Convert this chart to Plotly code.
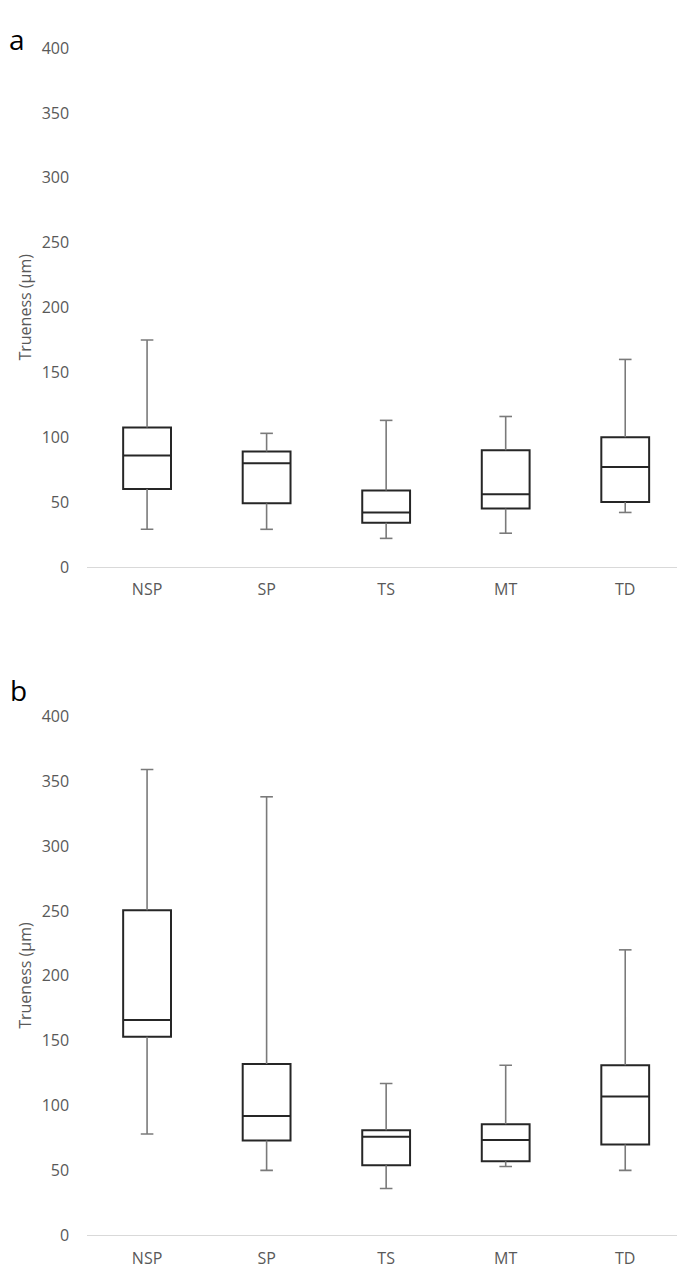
import plotly.graph_objects as go

categories = ["NSP", "SP", "TS", "MT", "TD"]

# Panel a
a_low = [29, 29, 22, 26, 42]
a_q1 = [60, 49, 34, 45, 50]
a_med = [86, 80, 42, 56, 77]
a_q3 = [107.5, 89, 59, 90, 100]
a_high = [175, 103, 113, 116, 160]

# Panel b
b_low = [78, 50, 36, 53, 50]
b_q1 = [153, 73, 54, 57, 70]
b_med = [166, 92, 76, 73.5, 107]
b_q3 = [250.5, 132, 81, 85.5, 131]
b_high = [359, 338, 117, 131, 220]

y_ticks = [0, 50, 100, 150, 200, 250, 300, 350, 400]
panel_labels = ["a", "b"]
y_title = "Trueness (µm)"

# page body has an 8px margin; figure is sized/positioned to compensate
OFF = 8
W, H = 685 - OFF, 1275 - OFF
TEXT = "#595959"
FONT = "Open Sans"

fig = go.Figure()

panels = [
    (a_low, a_q1, a_med, a_q3, a_high, "x", "y"),
    (b_low, b_q1, b_med, b_q3, b_high, "x2", "y2"),
]

for low, q1, med, q3, high, xa, ya in panels:
    wx, wy = [], []
    for c, lo, a, b, hi in zip(categories, low, q1, q3, high):
        wx += [c, c, None, c, c, None]
        wy += [lo, a, None, b, hi, None]
    fig.add_trace(go.Box(
        x=categories, q1=q1, median=med, q3=q3,
        lowerfence=q1, upperfence=q3,
        width=0.4, fillcolor="white",
        line=dict(color="#262626", width=2),
        xaxis=xa, yaxis=ya, showlegend=False, hoverinfo="skip",
    ))
    fig.add_trace(go.Scatter(
        x=wx, y=wy, mode="lines",
        line=dict(color="#7a7a7a", width=1.6),
        xaxis=xa, yaxis=ya, showlegend=False, hoverinfo="skip",
    ))
    fig.add_trace(go.Scatter(
        x=categories + categories, y=low + high, mode="markers",
        marker=dict(symbol="line-ew", size=9,
                    line=dict(color="#7a7a7a", width=1.6)),
        xaxis=xa, yaxis=ya, showlegend=False, hoverinfo="skip",
    ))

def py(y):
    return 1 - (y - OFF) / H

def px(x):
    return (x - OFF) / W

dom_a = [py(565.6), py(37.7)]
dom_b = [py(1245.7), py(717.7)]
xdom = [px(87.3), 1.0]

common_x = dict(
    type="category", categoryorder="array", categoryarray=categories,
    showline=True, linecolor="#d9d9d9", linewidth=1.3,
    showgrid=False, zeroline=False,
    ticks="outside", ticklen=8, tickcolor="rgba(0,0,0,0)",
    tickfont=dict(family=FONT, size=16, color=TEXT),
    range=[-0.5, 4.5], domain=xdom, fixedrange=True,
)
common_y = dict(
    range=[0, 400], tickvals=y_ticks,
    showline=False, showgrid=False, zeroline=False,
    ticks="outside", ticklen=14, tickcolor="rgba(0,0,0,0)",
    tickfont=dict(family=FONT, size=16, color=TEXT),
    fixedrange=True,
)

fig.update_layout(
    width=W, height=H,
    margin=dict(l=0, r=0, t=0, b=0),
    paper_bgcolor="white", plot_bgcolor="white",
    xaxis=dict(**common_x, anchor="y"),
    yaxis=dict(**common_y, domain=dom_a, anchor="x"),
    xaxis2=dict(**common_x, anchor="y2"),
    yaxis2=dict(**common_y, domain=dom_b, anchor="x2"),
    showlegend=False,
)

annotations = []
for dom in (dom_a, dom_b):
    annotations.append(dict(
        text=y_title, x=px(25), y=(dom[0] + dom[1]) / 2,
        xref="paper", yref="paper", xanchor="center", yanchor="middle",
        textangle=-90, showarrow=False,
        font=dict(family=FONT, size=16, color=TEXT),
    ))
annotations.append(dict(
    text=panel_labels[0], x=0, y=1, xref="paper", yref="paper",
    xanchor="left", yanchor="top", showarrow=False, borderpad=0,
    font=dict(family=FONT, size=28, color="black"),
))
annotations.append(dict(
    text=panel_labels[1], x=0, y=py(691), xref="paper", yref="paper",
    xanchor="left", yanchor="middle", showarrow=False,
    font=dict(family=FONT, size=28, color="black"),
))
fig.update_layout(annotations=annotations)

fig.write_html("out.html")
